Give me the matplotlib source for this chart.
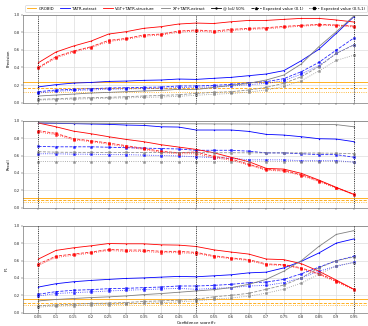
import matplotlib
matplotlib.use("Agg")
import matplotlib.pyplot as plt
from matplotlib.lines import Line2D

theta = [0.05, 0.1, 0.15, 0.2, 0.25, 0.3, 0.35, 0.4, 0.45, 0.5,
         0.55, 0.6, 0.65, 0.7, 0.75, 0.8, 0.85, 0.9, 0.95]
xtick_labels = ["0.05", "0.1", "0.15", "0.2", "0.25", "0.3", "0.35", "0.4", "0.45", "0.5",
                "0.55", "0.6", "0.65", "0.7", "0.75", "0.8", "0.85", "0.9", "0.95"]
methods = ["GROBID", "TATR-extract", "VGT+TATR-structure", "XY+TATR-extract"]
variants = ["@ IoU 50%", "Expected value (0.1)", "Expected value (0.5,1)"]

# GROBID constants: [iou50, ev01, ev051]
grobid_precision = [0.23, 0.163, 0.117]
grobid_recall = [0.115, 0.084, 0.061]
grobid_f1 = [0.155, 0.117, 0.09]

# ---------------- Precision ----------------
tatr_precision_iou = [0.18, 0.205, 0.223, 0.23, 0.242, 0.246, 0.254, 0.258, 0.269, 0.265,
                      0.277, 0.288, 0.307, 0.326, 0.364, 0.477, 0.606, 0.788, 0.977]
tatr_precision_ev01 = [0.125, 0.144, 0.152, 0.159, 0.167, 0.17, 0.174, 0.178, 0.19, 0.19,
                       0.197, 0.208, 0.227, 0.239, 0.273, 0.352, 0.458, 0.598, 0.735]
tatr_precision_ev051 = [0.11, 0.13, 0.14, 0.145, 0.152, 0.157, 0.16, 0.163, 0.172, 0.175,
                        0.18, 0.19, 0.205, 0.22, 0.25, 0.325, 0.42, 0.56, 0.66]
vgt_precision_iou = [0.455, 0.576, 0.644, 0.70, 0.78, 0.807, 0.845, 0.864, 0.894, 0.905,
                     0.90, 0.92, 0.935, 0.935, 0.947, 0.958, 0.958, 0.94, 0.917]
vgt_precision_ev01 = [0.40, 0.523, 0.587, 0.636, 0.708, 0.73, 0.769, 0.78, 0.814, 0.826,
                      0.814, 0.833, 0.845, 0.852, 0.867, 0.879, 0.89, 0.883, 0.871]
vgt_precision_ev051 = [0.39, 0.51, 0.575, 0.625, 0.695, 0.72, 0.755, 0.77, 0.80, 0.815,
                       0.80, 0.82, 0.835, 0.84, 0.855, 0.87, 0.88, 0.875, 0.86]
xy_precision_iou = [0.076, 0.087, 0.098, 0.11, 0.117, 0.125, 0.133, 0.14, 0.152, 0.15,
                    0.174, 0.197, 0.22, 0.258, 0.314, 0.44, 0.636, 0.807, 0.985]
xy_precision_ev01 = [0.038, 0.045, 0.053, 0.057, 0.061, 0.068, 0.076, 0.083, 0.09, 0.106,
                     0.117, 0.125, 0.144, 0.174, 0.22, 0.295, 0.41, 0.56, 0.655]
xy_precision_ev051 = [0.03, 0.035, 0.04, 0.045, 0.05, 0.055, 0.06, 0.065, 0.072, 0.085,
                      0.095, 0.105, 0.12, 0.145, 0.185, 0.25, 0.36, 0.48, 0.54]

# ---------------- Recall ----------------
tatr_recall_iou = [0.973, 0.97, 0.966, 0.962, 0.958, 0.95, 0.946, 0.93, 0.927, 0.893,
                   0.893, 0.893, 0.877, 0.843, 0.835, 0.816, 0.793, 0.789, 0.759]
tatr_recall_ev01 = [0.705, 0.70, 0.70, 0.70, 0.695, 0.69, 0.685, 0.68, 0.675, 0.66,
                    0.66, 0.66, 0.65, 0.63, 0.63, 0.62, 0.61, 0.61, 0.58]
tatr_recall_ev051 = [0.62, 0.62, 0.615, 0.615, 0.61, 0.61, 0.605, 0.60, 0.595, 0.585,
                     0.575, 0.57, 0.55, 0.55, 0.55, 0.54, 0.54, 0.54, 0.525]
vgt_recall_iou = [0.973, 0.93, 0.88, 0.85, 0.816, 0.785, 0.759, 0.724, 0.697, 0.67,
                  0.632, 0.579, 0.529, 0.452, 0.444, 0.395, 0.318, 0.234, 0.153]
vgt_recall_ev01 = [0.885, 0.854, 0.793, 0.77, 0.743, 0.713, 0.682, 0.648, 0.632, 0.64,
                   0.59, 0.56, 0.50, 0.44, 0.43, 0.38, 0.31, 0.23, 0.155]
vgt_recall_ev051 = [0.87, 0.84, 0.78, 0.76, 0.73, 0.70, 0.67, 0.635, 0.62, 0.62,
                    0.575, 0.545, 0.49, 0.43, 0.42, 0.37, 0.30, 0.225, 0.15]
xy_recall_iou = [0.975, 0.973, 0.972, 0.971, 0.97, 0.968, 0.967, 0.966, 0.965, 0.964,
                 0.963, 0.962, 0.961, 0.96, 0.959, 0.958, 0.957, 0.955, 0.93]
xy_recall_ev01 = [0.644, 0.638, 0.636, 0.636, 0.635, 0.635, 0.634, 0.634, 0.633, 0.633,
                  0.632, 0.632, 0.631, 0.63, 0.63, 0.63, 0.628, 0.626, 0.62]
xy_recall_ev051 = [0.53, 0.53, 0.53, 0.53, 0.53, 0.53, 0.53, 0.53, 0.53, 0.53,
                   0.53, 0.53, 0.53, 0.53, 0.53, 0.53, 0.53, 0.53, 0.525]

# ---------------- F1 ----------------
tatr_f1_iou = [0.295, 0.333, 0.356, 0.371, 0.383, 0.394, 0.40, 0.409, 0.417, 0.413,
               0.424, 0.436, 0.458, 0.466, 0.515, 0.59, 0.686, 0.80, 0.848]
tatr_f1_ev01 = [0.212, 0.242, 0.258, 0.265, 0.276, 0.28, 0.288, 0.295, 0.307, 0.307,
                0.314, 0.326, 0.345, 0.352, 0.383, 0.447, 0.523, 0.598, 0.648]
tatr_f1_ev051 = [0.193, 0.22, 0.231, 0.239, 0.25, 0.258, 0.265, 0.273, 0.28, 0.269,
                 0.28, 0.288, 0.307, 0.314, 0.345, 0.40, 0.477, 0.534, 0.58]
vgt_f1_iou = [0.617, 0.716, 0.746, 0.769, 0.795, 0.792, 0.792, 0.78, 0.777, 0.761,
              0.723, 0.697, 0.674, 0.617, 0.61, 0.564, 0.477, 0.375, 0.269]
vgt_f1_ev01 = [0.56, 0.65, 0.674, 0.697, 0.727, 0.72, 0.72, 0.705, 0.705, 0.693,
               0.655, 0.63, 0.61, 0.56, 0.553, 0.515, 0.45, 0.364, 0.269]
vgt_f1_ev051 = [0.545, 0.635, 0.66, 0.685, 0.715, 0.705, 0.705, 0.69, 0.69, 0.68,
                0.645, 0.62, 0.60, 0.55, 0.545, 0.505, 0.44, 0.355, 0.265]
xy_f1_iou = [0.136, 0.152, 0.163, 0.174, 0.182, 0.193, 0.208, 0.22, 0.235, 0.25,
             0.265, 0.288, 0.326, 0.383, 0.477, 0.598, 0.761, 0.90, 0.943]
xy_f1_ev01 = [0.08, 0.091, 0.098, 0.106, 0.11, 0.117, 0.129, 0.136, 0.144, 0.155,
              0.182, 0.20, 0.223, 0.269, 0.318, 0.40, 0.515, 0.598, 0.64]
xy_f1_ev051 = [0.065, 0.075, 0.08, 0.088, 0.093, 0.10, 0.108, 0.115, 0.125, 0.135,
               0.155, 0.17, 0.19, 0.225, 0.27, 0.34, 0.44, 0.54, 0.575]

colors = {"GROBID": "#FFA500", "TATR-extract": "#0000FF",
          "VGT+TATR-structure": "#FF0000", "XY+TATR-extract": "#808080"}
styles = [("-", "."), ("--", "s"), (":", "s")]

panels = [
    ("Precision", grobid_precision,
     {"TATR-extract": [tatr_precision_iou, tatr_precision_ev01, tatr_precision_ev051],
      "VGT+TATR-structure": [vgt_precision_iou, vgt_precision_ev01, vgt_precision_ev051],
      "XY+TATR-extract": [xy_precision_iou, xy_precision_ev01, xy_precision_ev051]}),
    ("Recall", grobid_recall,
     {"TATR-extract": [tatr_recall_iou, tatr_recall_ev01, tatr_recall_ev051],
      "VGT+TATR-structure": [vgt_recall_iou, vgt_recall_ev01, vgt_recall_ev051],
      "XY+TATR-extract": [xy_recall_iou, xy_recall_ev01, xy_recall_ev051]}),
    ("F$_1$", grobid_f1,
     {"TATR-extract": [tatr_f1_iou, tatr_f1_ev01, tatr_f1_ev051],
      "VGT+TATR-structure": [vgt_f1_iou, vgt_f1_ev01, vgt_f1_ev051],
      "XY+TATR-extract": [xy_f1_iou, xy_f1_ev01, xy_f1_ev051]}),
]

W, H = 368, 326
fig = plt.figure(figsize=(W / 100, H / 100), dpi=100)
left = 22.7 / W
width = 346.9 / W
tops = [14.7, 120.7, 225.7]
heights = [88, 87, 87]

FS = 2.8
axes = []
for i, (ylabel, grobid_vals, series) in enumerate(panels):
    top = tops[i]
    h = heights[i]
    ax = fig.add_axes([left, (H - top - h) / H, width, h / H])
    axes.append(ax)
    ax.set_xlim(0.005, 0.995)
    ax.set_ylim(0, 1)
    ax.set_xticks(theta)
    ax.set_yticks([0, 0.2, 0.4, 0.6, 0.8, 1.0])
    ax.set_yticklabels(["0.0", "0.2", "0.4", "0.6", "0.8", "1.0"])
    ax.grid(True, color="#dddddd", linewidth=0.5, zorder=0)
    ax.set_axisbelow(True)
    for s in ax.spines.values():
        s.set_linewidth(0.4)
        s.set_color("#555555")
    ax.tick_params(labelsize=FS, length=1.2, width=0.3, pad=1, colors="#333333")
    ax.tick_params(axis="x", pad=0.6)
    ax.set_ylabel(ylabel, fontsize=FS, labelpad=2)
    if i < 2:
        ax.set_xticklabels([])
    else:
        ax.set_xticklabels(xtick_labels)
        ax.set_xlabel("Confidence score $\\theta_c$", fontsize=FS, labelpad=0.3)
    # GROBID constants
    for (ls, mk), val in zip(styles, grobid_vals):
        ax.axhline(val, color=colors["GROBID"], linestyle=ls, linewidth=0.6, zorder=2)
    for name in ["TATR-extract", "VGT+TATR-structure", "XY+TATR-extract"]:
        for (ls, mk), vals in zip(styles, series[name]):
            ax.plot(theta, vals, color=colors[name], linestyle=ls, linewidth=0.6,
                    marker=mk, markersize=1.4, markeredgewidth=0.3, zorder=3,
                    alpha=1.0 if ls == "-" else 0.85)
    for xv in [0.05, 0.5, 0.95]:
        ax.axvline(xv, color="black", linestyle=":", linewidth=0.6, zorder=4)

handles = [Line2D([], [], color=colors[m], linewidth=0.6) for m in methods]
handles += [Line2D([], [], color="black", linestyle=ls, marker=mk, linewidth=0.6,
                   markersize=1.4) for ls, mk in [("-", "."), ("--", "^"), (":", "s")]]
labels = methods + variants
leg = axes[0].legend(handles, labels, loc="lower left", bbox_to_anchor=(0.007, 1.03),
                     ncol=7, fontsize=FS, frameon=True, borderaxespad=0, handlelength=2.5,
                     columnspacing=1.55, handletextpad=0.6, borderpad=0.4,
                     framealpha=1, edgecolor="#cccccc", fancybox=True)
leg.get_frame().set_linewidth(0.4)

fig.savefig("out.png", dpi=100)
